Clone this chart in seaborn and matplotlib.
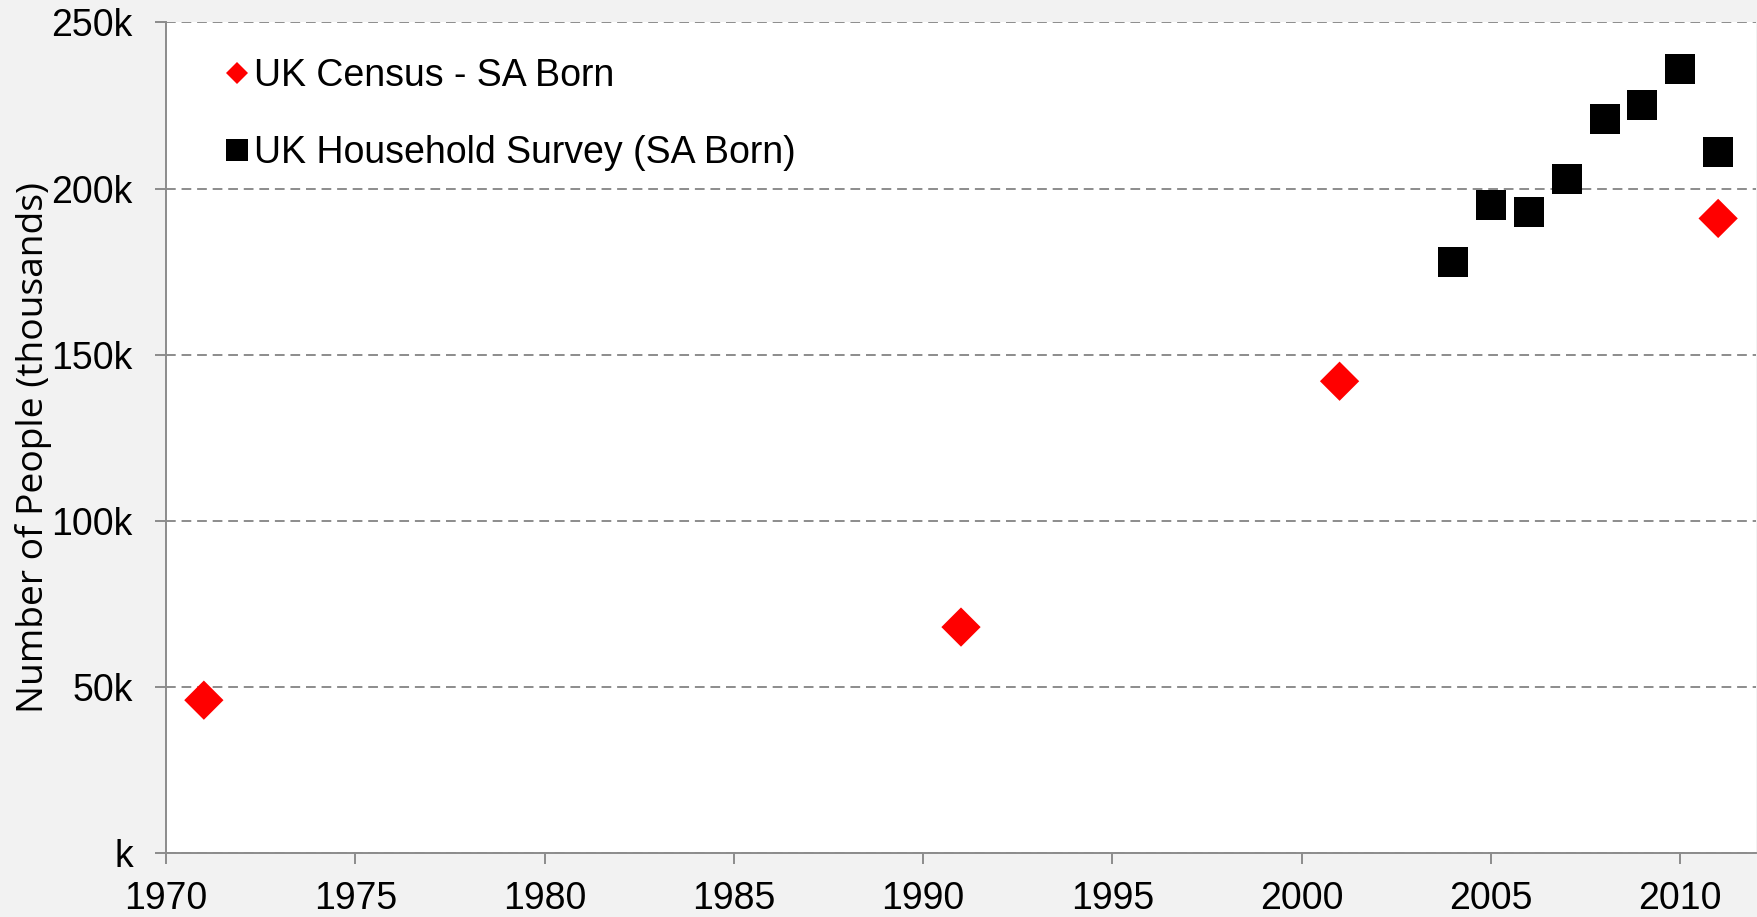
import matplotlib
matplotlib.use("Agg")
import matplotlib.pyplot as plt
import seaborn as sns
import pandas as pd
from matplotlib.lines import Line2D

census_years = [1971, 1991, 2001, 2011]
census_values = [46, 68, 142, 191]
survey_years = [2004, 2005, 2006, 2007, 2008, 2009, 2010, 2011]
survey_values = [178, 195, 193, 203, 221, 225, 236, 211]
y_ticks = [0, 50, 100, 150, 200, 250]
y_tick_labels = ["k", "50k", "100k", "150k", "200k", "250k"]
x_ticks = [1970, 1975, 1980, 1985, 1990, 1995, 2000, 2005, 2010]
census_label = "UK Census - SA Born"
survey_label = "UK Household Survey (SA Born)"

sns.set_style("white")
plt.rcParams["font.family"] = ["Liberation Sans", "DejaVu Sans"]
plt.rcParams["text.color"] = "black"
plt.rcParams["xtick.labelcolor"] = "black"
plt.rcParams["ytick.labelcolor"] = "black"

FS = 27
grey = "#8c8c8c"

fig = plt.figure(figsize=(17.58, 9.17), dpi=100)
fig.patch.set_facecolor("#f2f2f2")
ax = fig.add_axes([166 / 1758, 1 - 853 / 917, (1756 - 166) / 1758, (853 - 22.4) / 917])
ax.set_facecolor("white")

census_df = pd.DataFrame({"year": census_years, "value": census_values})
survey_df = pd.DataFrame({"year": survey_years, "value": survey_values})

sns.scatterplot(data=survey_df, x="year", y="value", ax=ax, marker="s", s=21.6 ** 2,
                color="black", edgecolor="none", linewidth=0, zorder=3)
sns.scatterplot(data=census_df, x="year", y="value", ax=ax, marker="D", s=20 ** 2,
                color="red", edgecolor="none", linewidth=0, zorder=4)

ax.set_xlim(1970, 2012)
ax.set_ylim(0, 250)
ax.set_xticks(x_ticks)
ax.set_xticklabels([str(x) for x in x_ticks])
ax.set_yticks(y_ticks)
ax.set_yticklabels(y_tick_labels)
ax.set_xlabel("")
ax.set_ylabel("Number of People (thousands)", fontsize=26.7, color="black",
              family=["Open Sans", "DejaVu Sans"])
ax.yaxis.set_label_coords(-0.0717, 0.4876)

ax.yaxis.grid(True, color=grey, linestyle=(0, (5, 3)), linewidth=1.4)
ax.set_axisbelow(True)

for s in ["top", "right"]:
    ax.spines[s].set_visible(False)
for s in ["left", "bottom"]:
    ax.spines[s].set_color(grey)
    ax.spines[s].set_linewidth(1.4)

ax.tick_params(axis="x", direction="out", length=8, width=1.4, color=grey,
               labelsize=FS, pad=12, bottom=True)
ax.tick_params(axis="y", direction="out", length=8, width=1.4, color=grey,
               labelsize=FS, pad=16, left=True)

handles = [
    Line2D([], [], marker="D", linestyle="none", color="red", markersize=10.7, markeredgewidth=0),
    Line2D([], [], marker="s", linestyle="none", color="black", markersize=15.8, markeredgewidth=0),
]
leg = ax.legend(handles, [census_label, survey_label], loc="upper left",
                bbox_to_anchor=(0.0283, 0.975), frameon=False, fontsize=FS,
                handlelength=0.6, handletextpad=0.15, labelspacing=1.1, borderaxespad=0)

fig.savefig("out.png", dpi=100, facecolor=fig.get_facecolor())
